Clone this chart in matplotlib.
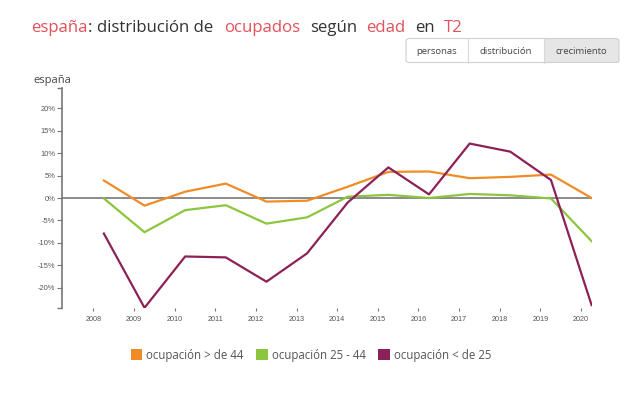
import matplotlib.pyplot as plt
import numpy as np
from matplotlib.patches import Patch, FancyBboxPatch, Rectangle

# Datos: crecimiento interanual de ocupados (T2), españa
years = np.arange(2008, 2021)
mayores44 = [3.9, -1.7, 1.4, 3.2, -0.8, -0.6, 2.5, 5.8, 5.9, 4.4, 4.7, 5.2, 0.0]
entre25_44 = [-0.1, -7.6, -2.7, -1.6, -5.7, -4.3, 0.3, 0.7, 0.0, 0.9, 0.6, -0.1, -9.6]
menores25 = [-7.9, -24.4, -13.0, -13.2, -18.6, -12.3, -1.0, 6.8, 0.8, 12.1, 10.3, 4.0, -23.8]
series_labels = ['ocupación > de 44', 'ocupación 25 - 44', 'ocupación < de 25']
series_colors = ['#f08c28', '#8cc63e', '#8c2157']
ytick_vals = [-20, -15, -10, -5, 0, 5, 10, 15, 20]

# T2 -> punto desplazado dentro del año
quarter_offset = 0.26
x = years + quarter_offset

plt.rcParams['font.family'] = ['Open Sans', 'DejaVu Sans']

fig = plt.figure(figsize=(6.4, 3.95), dpi=100)
ax = fig.add_axes([62 / 640, 1 - 308 / 395, 530 / 640, 220 / 395])

ax.axhline(0, color='#8a8a8a', lw=1.4, zorder=1)
for vals, col in zip([mayores44, entre25_44, menores25], series_colors):
    ax.plot(x, vals, color=col, lw=1.6, zorder=3)

ax.set_xlim(2007.23, 2020.27)
ax.set_ylim(-24.45, 24.45)

ax.set_yticks(ytick_vals)
ax.set_yticklabels(['%d%%' % v for v in ytick_vals])
ax.set_yticks([-24.45, 24.45], minor=True)
ax.set_xticks(years)
ax.set_xticklabels([str(y) for y in years])

for s in ['top', 'right', 'bottom']:
    ax.spines[s].set_visible(False)
ax.spines['left'].set_color('#777777')
ax.spines['left'].set_linewidth(1.2)

ax.tick_params(axis='y', which='major', length=3.5, width=0.8, color='#777777',
               labelsize=5.4, labelcolor='#555555', pad=1.5)
ax.tick_params(axis='y', which='minor', length=3.5, width=1.0, color='#777777')
ax.tick_params(axis='x', length=2.5, width=0.8, color='#777777',
               labelsize=5.2, labelcolor='#555555', pad=3)
for lab in ax.get_xticklabels() + ax.get_yticklabels():
    lab.set_family('Liberation Sans')

# Título con palabras resaltadas
red = '#e0525c'
dark = '#333333'
title_parts = [('españa', red, 31), (':', dark, 88), ('distribución de', dark, 97),
               ('ocupados', red, 224), ('según', dark, 310), ('edad', red, 366),
               ('en', dark, 415), ('T2', red, 444)]
for txt, col, px in title_parts:
    fig.text(px / 640, 1 - 31.5 / 395, txt, color=col, fontsize=12.1, va='baseline')

fig.text(33 / 640, 1 - 83 / 395, 'españa', color='#444444', fontsize=8, va='baseline')

# Botones
btn_labels = ['personas', 'distribución', 'crecimiento']
btn_edges = [406, 468, 544, 619]
top_px, bot_px = 38.5, 62.5
fig.add_artist(Rectangle((544 / 640, 1 - bot_px / 395), 75 / 640, 24 / 395,
                         transform=fig.transFigure, facecolor='#e6e6e6',
                         edgecolor='none'))
fig.add_artist(FancyBboxPatch((406 / 640, 1 - bot_px / 395), 213 / 640, 24 / 395,
                              boxstyle='round,pad=0,rounding_size=0.006',
                              transform=fig.transFigure, facecolor='none',
                              edgecolor='#d0d0d0', lw=0.8))
for xe in btn_edges[1:3]:
    fig.add_artist(plt.Line2D([xe / 640, xe / 640], [1 - bot_px / 395, 1 - top_px / 395],
                              transform=fig.transFigure, color='#d8d8d8', lw=0.8))
for i, lab in enumerate(btn_labels):
    cx = (btn_edges[i] + btn_edges[i + 1]) / 2 / 640
    fig.text(cx, 1 - 51 / 395, lab, ha='center', va='center', fontsize=6.8, color='#444444')

# Leyenda
handles = [Patch(facecolor=c, edgecolor='none') for c in series_colors]
fig.legend(handles, series_labels, loc='center', bbox_to_anchor=(311 / 640, 1 - 355 / 395),
           ncol=3, frameon=False, fontsize=8.3, handlelength=1.0, handleheight=1.0,
           handletextpad=0.35, columnspacing=1.1, labelcolor='#555555')

fig.savefig('out.png', dpi=100)
